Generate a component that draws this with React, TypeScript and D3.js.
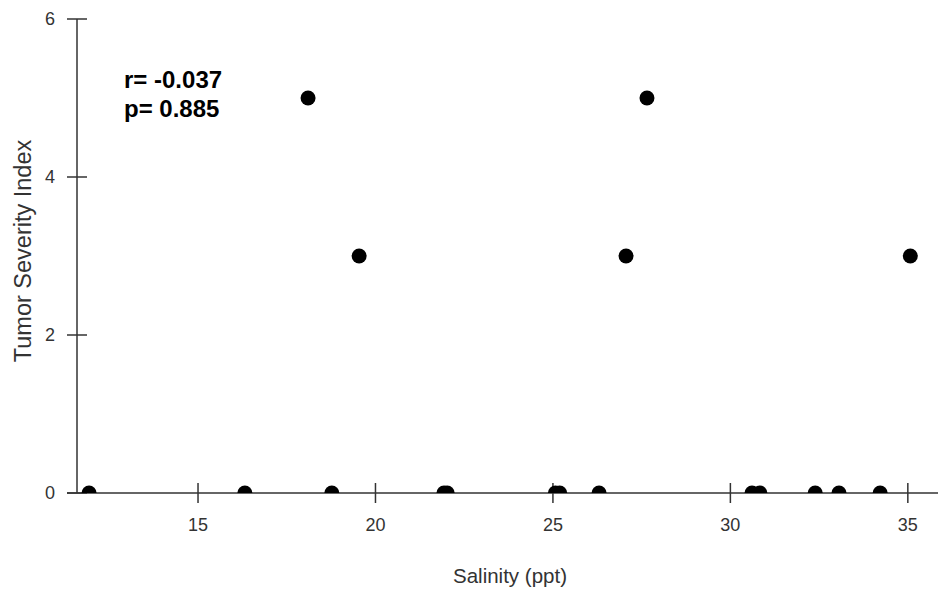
import React from "react";
import * as d3 from "d3";

// Salinity (ppt) and tumor severity index for each sampled site
const salinity = [
  11.93, 16.32, 18.1, 18.77, 19.54, 21.93, 22.02, 25.07, 25.19, 26.3,
  27.06, 27.65, 30.61, 30.83, 32.39, 33.06, 34.22, 35.07,
];
const severity = [0, 0, 5, 0, 3, 0, 0, 0, 0, 0, 3, 5, 0, 0, 0, 0, 0, 3];

const xTicks = [15, 20, 25, 30, 35];
const yTicks = [0, 2, 4, 6];

const statLines = ["r= -0.037", "p= 0.885"];

const W = 938;
const H = 595;
const left = 77;
const right = 938;
const top = 19;
const bottom = 493;

export default function App() {
  const x = d3.scaleLinear().domain([11.59, 35.85]).range([left, right]);
  const y = d3.scaleLinear().domain([0, 6]).range([bottom, top]);
  const axisColor = "#333";
  const font = "'Liberation Sans', Arial, sans-serif";

  return (
    <svg
      width={W}
      height={H}
      style={{ position: "absolute", left: 0, top: 0 }}
      fontFamily={font}
    >
      <defs>
        <clipPath id="plot-area">
          <rect x={left} y={top} width={right - left} height={bottom - top} />
        </clipPath>
      </defs>

      {/* y axis */}
      <line x1={left} x2={left} y1={top} y2={bottom} stroke={axisColor} strokeWidth={1.5} />
      {yTicks.map((t) => (
        <g key={`y${t}`}>
          <line x1={left - 10} x2={left + 10} y1={y(t)} y2={y(t)} stroke={axisColor} strokeWidth={1.5} />
          <text x={left - 22} y={y(t)} dy="0.35em" textAnchor="end" fontSize={18} fill="#333">
            {t}
          </text>
        </g>
      ))}

      {/* x axis */}
      <line x1={left - 10} x2={W} y1={bottom} y2={bottom} stroke={axisColor} strokeWidth={1.5} />
      {xTicks.map((t) => (
        <g key={`x${t}`}>
          <line x1={x(t)} x2={x(t)} y1={bottom - 10} y2={bottom + 10} stroke={axisColor} strokeWidth={1.5} />
          <text x={x(t)} y={531} textAnchor="middle" fontSize={18} fill="#333">
            {t}
          </text>
        </g>
      ))}

      {/* axis titles */}
      <text x={510} y={583} textAnchor="middle" fontSize={20.5} fill="#333">
        Salinity (ppt)
      </text>
      <text
        transform={`translate(31, 251) rotate(-90)`}
        textAnchor="middle"
        fontSize={23.5}
        fill="#333"
      >
        Tumor Severity Index
      </text>

      {/* points */}
      <g clipPath="url(#plot-area)">
        {salinity.map((s, i) => (
          <circle key={i} cx={x(s)} cy={y(severity[i])} r={7.5} fill="#000" />
        ))}
      </g>

      {/* correlation statistics */}
      {statLines.map((line, i) => (
        <text key={line} x={124} y={88 + i * 29} fontSize={24} fontWeight="bold" fill="#000">
          {line}
        </text>
      ))}
    </svg>
  );
}
